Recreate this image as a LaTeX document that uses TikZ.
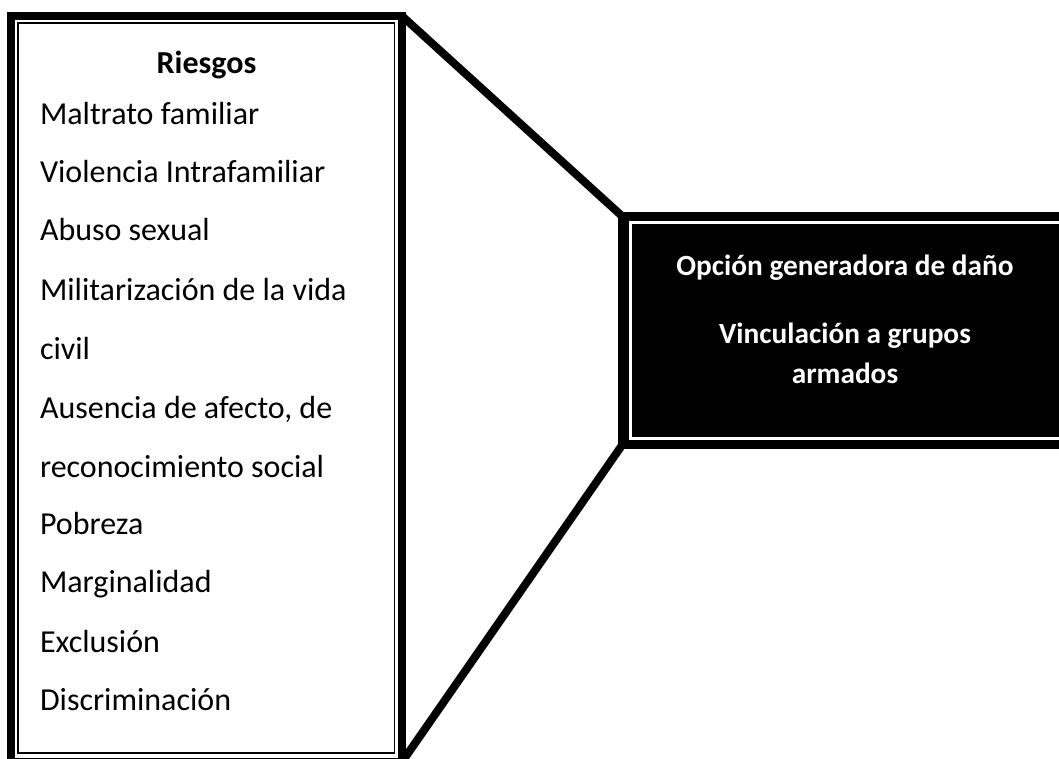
\documentclass[tikz,border=0pt]{standalone}
\usepackage{fontspec}
\setmainfont{Carlito}
\begin{document}
\begin{tikzpicture}[x=1pt,y=-1pt,
  every node/.style={inner sep=0pt, outer sep=0pt},
  item/.style={anchor=base west, font=\fontsize{32}{38}\selectfont},
  head/.style={anchor=base, font=\fontsize{32}{38}\selectfont\bfseries},
  rtext/.style={anchor=base, text=white, font=\fontsize{29.3}{35}\selectfont\bfseries},
  frame/.style={draw, line width=8pt},
  darkbox/.style={draw, fill=black, line width=9pt},
  link/.style={line width=8pt}]
\useasboundingbox (0,0) rectangle (1059,758);
\clip (0,0) rectangle (1059,758);
% left box
\node[frame, minimum width=391pt, minimum height=746pt] (lb) at (206.5,389) {};
\draw[line width=1.3pt] ([shift={(7,7)}]lb.north west) rectangle ([shift={(-7.5,-9)}]lb.south east);
% right box
\node[darkbox, minimum width=458pt, minimum height=228pt] (rb) at (851.5,330.5) {};
\draw[white, line width=3pt] ([shift={(7.5,6)}]rb.north west) rectangle ([shift={(-7.5,-6)}]rb.south east);
% connectors
\draw[link] (lb.north east) -- (rb.north west);
\draw[link] (lb.south east) -- (rb.south west);
% left texts
\node[head] (h) at (206.5,73) {Riesgos};
\node[item] (i1) at (40,124) {Maltrato familiar};
\node[item] (i2) at (40,182) {Violencia Intrafamiliar};
\node[item] (i3) at (40,240) {Abuso sexual};
\node[item] (i4) at (40,300) {Militarización de la vida};
\node[item] (i5) at (40,359) {civil};
\node[item] (i6) at (40,418) {Ausencia de afecto, de};
\node[item] (i7) at (40,477) {reconocimiento social};
\node[item] (i8) at (40,534) {Pobreza};
\node[item] (i9) at (40,592) {Marginalidad};
\node[item] (i10) at (40,652) {Exclusión};
\node[item] (i11) at (40,710) {Discriminación};
% right texts
\node[rtext] (r1) at (845,275) {Opción generadora de daño};
\node[rtext] (r2) at (845,343) {Vinculación a grupos};
\node[rtext] (r3) at (845,383) {armados};
\end{tikzpicture}
\end{document}
